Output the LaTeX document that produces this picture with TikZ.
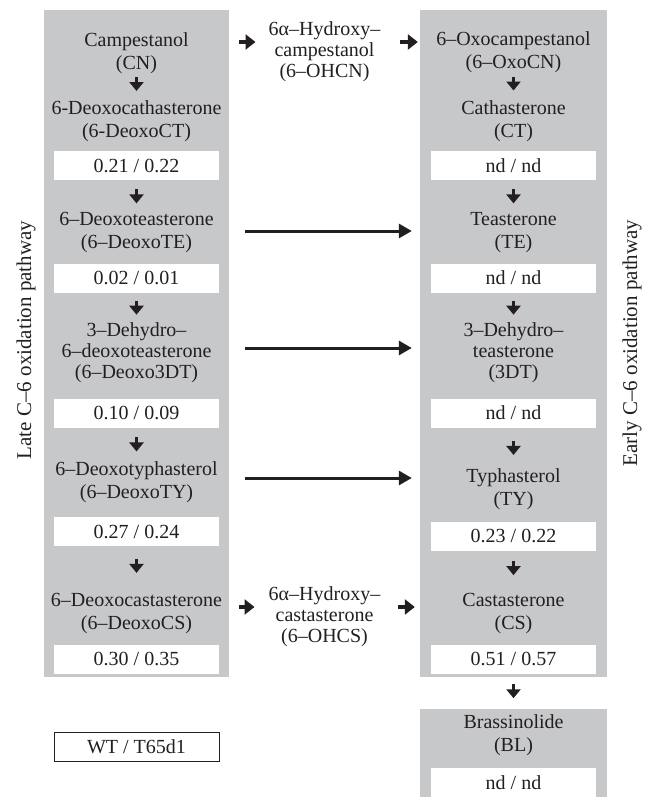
\documentclass[tikz,border=0pt]{standalone}
\usepackage{fontspec}
\setmainfont{Liberation Serif}
\usetikzlibrary{arrows.meta,calc,positioning}
\definecolor{colgray}{RGB}{199,200,202}
\definecolor{ink}{RGB}{35,31,32}

\begin{document}
\begin{tikzpicture}[x=1bp, y=-1bp,
    every node/.style={text=ink},
    column/.style={rectangle, fill=colgray, inner sep=0, minimum width=#1},
    compound/.style={align=center, inner sep=0, font=\fontsize{20bp}{23bp}\selectfont},
    compoundiii/.style={align=center, inner sep=0, font=\fontsize{20bp}{21bp}\selectfont},
    value/.style={rectangle, fill=white, minimum width=165bp, minimum height=29bp, inner sep=0, font=\fontsize{20bp}{23bp}\selectfont},
    legend/.style={value, draw=ink, line width=0.8bp},
    pathway/.style={rotate=90, inner sep=0, font=\fontsize{21bp}{24bp}\selectfont},
    dnarr/.style={draw=ink, line width=3.5bp, -{Triangle[length=9bp,width=14bp]},
        to path={($(\tikztostart)!.5!(\tikztotarget)+(0,#1-7)$) -- ++(0,14)}},
    dnarr/.default=0,
    longarr/.style={draw=ink, line width=3bp, -{Triangle[length=13bp,width=14bp]}, shorten <=16bp, shorten >=8bp},
    sidearr/.style={draw=ink, line width=4bp, -{Triangle[length=10bp,width=15bp]}}
]
    \useasboundingbox (0,0) rectangle (646,799);

    % Gray columns
    \node[column=185bp, minimum height=667bp] (late) at (136.5,343.5) {};
    \node[column=187bp, minimum height=667bp] (early) at (513.5,343.5) {};
    \node[column=187bp, minimum height=88bp] (blcol) at (513.5,753) {};

    % Late C-6 oxidation
    \node[compound] (cn) at (136.5,53) {Campestanol\\(CN)};
    \node[compound] (dct) at (136.5,121) {6-Deoxocathasterone\\(6-DeoxoCT)};
    \node[value] (vdct) at (136.5,165.5) {0.21 / 0.22};
    \node[compound] (dte) at (136.5,233) {6–Deoxoteasterone\\(6–DeoxoTE)};
    \node[value] (vdte) at (136.5,278) {0.02 / 0.01};
    \node[compoundiii] (ddt) at (136.5,353) {3–Dehydro–\\6–deoxoteasterone\\(6–Deoxo3DT)};
    \node[value] (vddt) at (136.5,413) {0.10 / 0.09};
    \node[compound] (dty) at (136.5,482) {6–Deoxotyphasterol\\(6–DeoxoTY)};
    \node[value] (vdty) at (136.5,531.5) {0.27 / 0.24};
    \node[compound] (dcs) at (136.5,614) {6–Deoxocastasterone\\(6–DeoxoCS)};
    \node[value] (vdcs) at (136.5,659) {0.30 / 0.35};

    % Early C-6 oxidation
    \node[compound] (ocn) at (513.5,52) {6–Oxocampestanol\\(6–OxoCN)};
    \node[compound] (ct) at (513.5,121) {Cathasterone\\(CT)};
    \node[value] (vct) at (513.5,165.5) {nd / nd};
    \node[compound] (te) at (513.5,233) {Teasterone\\(TE)};
    \node[value] (vte) at (513.5,278) {nd / nd};
    \node[compoundiii] (dt) at (513.5,353) {3–Dehydro–\\teasterone\\(3DT)};
    \node[value] (vdt) at (513.5,413) {nd / nd};
    \node[compound] (ty) at (513.5,489) {Typhasterol\\(TY)};
    \node[value] (vty) at (513.5,536) {0.23 / 0.22};
    \node[compound] (cs) at (513.5,614) {Castasterone\\(CS)};
    \node[value] (vcs) at (513.5,659) {0.51 / 0.57};
    \node[compound] (bl) at (513.5,735) {Brassinolide\\(BL)};
    \node[value] (vbl) at (513.5,782.5) {nd / nd};

    % 6-hydroxy intermediates
    \node[compoundiii] (hcn) at (324.5,52) {6α–Hydroxy–\\campestanol\\(6–OHCN)};
    \node[compoundiii] (hcs) at (324.5,617) {6α–Hydroxy–\\castasterone\\(6–OHCS)};

    % Legend and pathway labels
    \node[legend] (key) at (136.5,746.5) {WT / T65d1};
    \node[pathway] (latelbl) at (26,340) {Late C–6 oxidation pathway};
    \node[pathway] (earlylbl) at (632,343) {Early C–6 oxidation pathway};

    % Arrows - late pathway
    \draw[dnarr=-3] (cn.south) to (dct.north);
    \draw[dnarr] (vdct.south) to (dte.north);
    \draw[dnarr] (vdte.south) to (ddt.north);
    \draw[dnarr] (vddt.south) to (dty.north);
    \draw[dnarr=-4] (vdty.south) to (dcs.north);

    % Arrows - early pathway
    \draw[dnarr=-3] (ocn.south) to (ct.north);
    \draw[dnarr] (vct.south) to (te.north);
    \draw[dnarr] (vte.south) to (dt.north);
    \draw[dnarr] (vdt.south) to (ty.north);
    \draw[dnarr=-4] (vty.south) to (cs.north);
    \draw[dnarr] (vcs.south) to (blcol.north);

    % Arrows - across
    \draw[sidearr, shorten <=10bp, shorten >=13bp] ($(hcn.west -| late.east)+(0,-10)$) -- ($(hcn.west)+(0,-10)$);
    \draw[sidearr, shorten <=20bp, shorten >=2bp] ($(hcn.east)+(0,-10)$) -- ($(hcn.east -| early.west)+(0,-10)$);
    \draw[sidearr, shorten <=10bp, shorten >=14bp] ($(hcs.west -| late.east)+(0,-10)$) -- ($(hcs.west)+(0,-10)$);
    \draw[sidearr, shorten <=18bp, shorten >=5bp] ($(hcs.east)+(0,-10)$) -- ($(hcs.east -| early.west)+(0,-10)$);
    \draw[longarr] ($(dte -| late.east)+(0,-2)$) -- ($(dte -| early.west)+(0,-2)$);
    \draw[longarr] ($(ddt -| late.east)+(0,-5)$) -- ($(ddt -| early.west)+(0,-5)$);
    \draw[longarr] ($(dty -| late.east)+(0,-4)$) -- ($(dty -| early.west)+(0,-4)$);
\end{tikzpicture}
\end{document}
